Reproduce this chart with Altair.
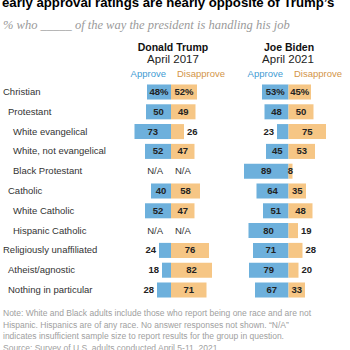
import altair as alt
import pandas as pd

rows = ["Christian", "Protestant", "White evangelical", "White, not evangelical",
        "Black Protestant", "Catholic", "White Catholic", "Hispanic Catholic",
        "Religiously unaffiliated", "Atheist/agnostic", "Nothing in particular"]
levels = [0, 1, 2, 2, 2, 1, 2, 2, 0, 1, 1]
trump_approve = [48, 50, 73, 52, None, 40, 52, None, 24, 18, 28]
trump_disapprove = [52, 49, 26, 47, None, 58, 47, None, 76, 82, 71]
biden_approve = [53, 48, 23, 45, 89, 64, 51, 80, 71, 79, 67]
biden_disapprove = [45, 50, 75, 53, 8, 35, 48, 19, 28, 20, 33]

TITLE = "early approval ratings are nearly opposite of Trump\u2019s"
SUBTITLE = "% who _____ of the way the president is handling his job"
NOTE = ["Note: White and Black adults include those who report being one race and are not",
        "Hispanic. Hispanics are of any race. No answer responses not shown. \u201cN/A\u201d",
        "indicates insufficient sample size to report results for the group in question.",
        "Source: Survey of U.S. adults conducted April 5-11, 2021."]

BLUE = "#6db0dc"
ORANGE = "#f6c685"
BLUE_T = "#3f9bd3"
ORANGE_T = "#d39548"
FONT = "Liberation Sans"

# divider positions in the x scale's units (1 unit = 1 percentage point)
CENTERS = {"Trump": 342, "Biden": 577}

recs = []
for i, g in enumerate(rows):
    for pres, a_list, d_list in (("Trump", trump_approve, trump_disapprove),
                                 ("Biden", biden_approve, biden_disapprove)):
        a, d = a_list[i], d_list[i]
        c = CENTERS[pres]
        suf = "%" if i == 0 else ""
        if a is None:
            recs.append(dict(group=g, pres=pres, na=True, c=c))
            continue
        recs.append(dict(group=g, pres=pres, na=False, c=c,
                         a0=c - a, a1=c, d0=c, d1=c + d,
                         a_lab=f"{a}{suf}", d_lab=f"{d}{suf}",
                         a_mid=c - a / 2, d_mid=c + d / 2,
                         a_in=(a >= 30 or a < 10), d_in=(d >= 30 or d < 10)))
df = pd.DataFrame(recs)
lab = pd.DataFrame({"group": rows, "level": levels})

xs = alt.Scale(domain=[0, 700], range=[0, 350])
ys = alt.Scale(domain=rows, range=[82.1, 299.9], paddingInner=0.24, paddingOuter=0.12)
Y = alt.Y("group:N", sort=rows, scale=ys, axis=None)

base = alt.Chart(df)
valid = base.transform_filter("!datum.na")

bar_a = valid.mark_bar(color=BLUE).encode(
    x=alt.X("a0:Q", scale=xs, axis=None), x2="a1:Q", y=Y)
bar_d = valid.mark_bar(color=ORANGE).encode(
    x=alt.X("d0:Q", scale=xs, axis=None), x2="d1:Q", y=Y)

lab_style = dict(font=FONT, fontSize=9.5, fontWeight="bold", color="#222222", baseline="middle")
t_a_in = valid.transform_filter("datum.a_in").mark_text(align="center", **lab_style).encode(
    x=alt.X("a_mid:Q", scale=xs), y=Y, text="a_lab:N")
t_a_out = valid.transform_filter("!datum.a_in").mark_text(align="right", dx=-3, **lab_style).encode(
    x=alt.X("a0:Q", scale=xs), y=Y, text="a_lab:N")
t_d_in = valid.transform_filter("datum.d_in").mark_text(align="center", **lab_style).encode(
    x=alt.X("d_mid:Q", scale=xs), y=Y, text="d_lab:N")
t_d_out = valid.transform_filter("!datum.d_in").mark_text(align="left", dx=3, **lab_style).encode(
    x=alt.X("d1:Q", scale=xs), y=Y, text="d_lab:N")

na_style = dict(font=FONT, fontSize=9.5, color="#333333", baseline="middle")
na_l = base.transform_filter("datum.na").mark_text(align="right", dx=-8, **na_style).encode(
    x=alt.X("c:Q", scale=xs), y=Y, text=alt.value("N/A"))
na_r = base.transform_filter("datum.na").mark_text(align="left", dx=4, **na_style).encode(
    x=alt.X("c:Q", scale=xs), y=Y, text=alt.value("N/A"))

row_layers = []
for lv, px in ((0, 3), (1, 8), (2, 13)):
    row_layers.append(
        alt.Chart(lab).transform_filter(f"datum.level == {lv}").mark_text(
            align="left", baseline="middle", font=FONT, fontSize=9.5, color="#333333"
        ).encode(x=alt.value(px), y=Y, text="group:N"))

one = pd.DataFrame({"k": [0]})


def static(text, x, y, **kw):
    return alt.Chart(one).mark_text(**kw).encode(
        x=alt.value(x), y=alt.value(y), text=alt.value(text))


texts = [
    static(TITLE, 2, 6.5, align="left", baseline="alphabetic", font=FONT,
           fontSize=13.2, fontWeight="bold", color="#000000"),
    static(SUBTITLE, 3, 28.5, align="left", baseline="alphabetic", font="Liberation Serif",
           fontSize=12.5, fontStyle="italic", color="#9a9a9a"),
    static("Donald Trump", 173, 51, align="center", baseline="alphabetic", font=FONT,
           fontSize=10.5, fontWeight="bold", color="#111111"),
    static("April 2017", 173, 63, align="center", baseline="alphabetic", font=FONT,
           fontSize=11.5, color="#222222"),
    static("Approve", 166, 77, align="right", baseline="alphabetic", font=FONT,
           fontSize=9.5, color=BLUE_T),
    static("Disapprove", 177, 77, align="left", baseline="alphabetic", font=FONT,
           fontSize=9.5, color=ORANGE_T),
    static("Joe Biden", 289, 51, align="center", baseline="alphabetic", font=FONT,
           fontSize=10.5, fontWeight="bold", color="#111111"),
    static("April 2021", 288, 63, align="center", baseline="alphabetic", font=FONT,
           fontSize=11.5, color="#222222"),
    static("Approve", 283, 77, align="right", baseline="alphabetic", font=FONT,
           fontSize=9.5, color=BLUE_T),
    static("Disapprove", 294, 77, align="left", baseline="alphabetic", font=FONT,
           fontSize=9.5, color=ORANGE_T),
    static(NOTE, 3, 316, align="left", baseline="alphabetic", font=FONT,
           fontSize=8.5, lineHeight=11.7, color="#a0a0a0"),
]

chart = alt.layer(
    bar_a, bar_d, t_a_in, t_a_out, t_d_in, t_d_out, na_l, na_r, *row_layers, *texts
).properties(
    width=350, height=350, padding=0, autosize=alt.AutoSizeParams(type="none"),
    background="white"
).configure_view(stroke=None)

chart.save("out.html", embed_options={"renderer": "svg", "actions": False})
